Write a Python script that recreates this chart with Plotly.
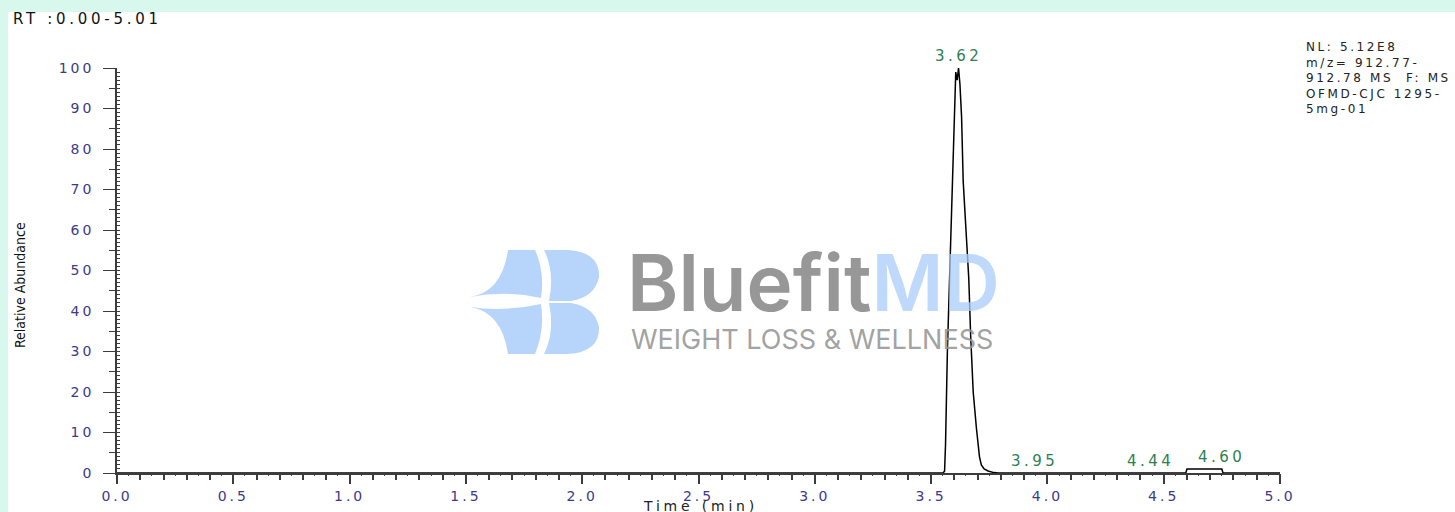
import plotly.graph_objects as go

# ---------------- data ----------------
time_min = [0.00, 3.552, 3.558, 3.562, 3.570, 3.583, 3.592, 3.606, 3.612, 3.618,
            3.624, 3.631, 3.638, 3.652, 3.662, 3.670, 3.681, 3.695, 3.708, 3.716,
            3.728, 3.745, 3.770, 3.790, 4.595, 4.600, 4.750, 4.755, 5.01]
rel_abundance = [0.0, 0.0, 0.5, 7.0, 30.0, 55.0, 78.0, 99.0, 97.0, 100.0,
                 96.0, 88.0, 72.0, 57.0, 48.0, 34.0, 20.0, 11.0, 4.0, 2.0,
                 1.0, 0.5, 0.1, 0.0, 0.0, 1.0, 1.0, 0.0, 0.0]

peak_labels = ["3.62", "3.95", "4.44", "4.60"]
peak_times = [3.62, 3.95, 4.44, 4.60]
peak_heights = [100.0, 0.0, 0.0, 1.0]
peak_xshift = [-1, -1, 1, 35]

x_tick_vals = [0.0, 0.5, 1.0, 1.5, 2.0, 2.5, 3.0, 3.5, 4.0, 4.5, 5.0]
y_tick_vals = [0, 10, 20, 30, 40, 50, 60, 70, 80, 90, 100]

info_lines = ["NL: 5.12E8", "m/z= 912.77-", "912.78 MS  F: MS", "OFMD-CJC 1295-", "5mg-01"]

# ---------------- geometry helpers (decoration only) ----------------
W, H = 1455, 512
L, R, T, B = 117, 175, 68, 39
PW, PH = W - L - R, H - T - B


def px(x):
    return (x - L) / PW


def py(y):
    return (H - B - y) / PH


def path(points):
    s = ""
    for cmd, pts in points:
        s += cmd + " " + " ".join(f"{px(a):.5f},{py(b):.5f}" for a, b in pts) + " "
    return s + "Z"


def spaced(txt, sp):
    return f"<span style='letter-spacing:{sp}px'>{txt}</span>"


MINT = "#d8f7ed"
AXIS = "#3c3c3c"
FONT = "DejaVu Sans, Verdana, sans-serif"
TICKFONT = dict(family=FONT, size=14, color="#3e3a86")
GREEN = "#2f7f52"
LOGO_BLUE = "rgba(170,205,250,0.85)"

fig = go.Figure()

fig.add_trace(go.Scatter(x=time_min, y=rel_abundance, mode="lines",
                         line=dict(color="black", width=1.5), hoverinfo="skip",
                         showlegend=False))
# helper invisible trace for overlay tick axes
fig.add_trace(go.Scatter(x=[0, 5], y=[0, 0], mode="lines", line=dict(width=0),
                         xaxis="x2", yaxis="y2", showlegend=False, hoverinfo="skip"))

shapes = []
# mint frame
shapes.append(dict(type="rect", xref="paper", yref="paper", x0=px(-5), x1=px(W + 5),
                   y0=py(12), y1=py(-5), fillcolor=MINT, line_width=0, layer="below"))
shapes.append(dict(type="rect", xref="paper", yref="paper", x0=px(-5), x1=px(8),
                   y0=py(H + 5), y1=py(-5), fillcolor=MINT, line_width=0, layer="below"))

# logo icon (watermark)
upper_wing = path([("M", [(470, 297)]), ("Q", [(502, 292), (508, 250)]), ("L", [(535, 250)]),
                   ("Q", [(545, 272), (541, 298)]), ("Q", [(505, 290), (470, 297)])])
upper_bump = path([("M", [(544, 250)]), ("L", [(568, 250)]), ("Q", [(600, 252), (599, 277)]),
                   ("Q", [(595, 297), (571, 301)]), ("L", [(549, 301)]),
                   ("Q", [(555, 272), (544, 250)])])
lower_wing = path([("M", [(470, 307)]), ("Q", [(502, 312), (508, 354)]), ("L", [(535, 354)]),
                   ("Q", [(545, 330), (541, 304)]), ("Q", [(505, 312), (470, 307)])])
lower_bump = path([("M", [(544, 354)]), ("L", [(568, 354)]), ("Q", [(600, 352), (599, 327)]),
                   ("Q", [(595, 307), (571, 303)]), ("L", [(549, 303)]),
                   ("Q", [(555, 332), (544, 354)])])
for p in (upper_wing, upper_bump, lower_wing, lower_bump):
    shapes.append(dict(type="path", xref="paper", yref="paper", path=p,
                       fillcolor=LOGO_BLUE, line_width=0, layer="above"))

annotations = []
# watermark text
annotations.append(dict(xref="paper", yref="paper", x=px(626), y=py(282), xanchor="left",
                        yanchor="middle", showarrow=False, borderpad=0,
                        text="Bluefit<span style='color:rgba(170,205,250,0.85)'>MD</span>",
                        font=dict(family="Inter, Roboto, sans-serif", size=78,
                                  color="rgba(140,140,140,0.9)", weight=600)))
annotations.append(dict(xref="paper", yref="paper", x=px(630), y=py(339), xanchor="left",
                        yanchor="middle", showarrow=False, borderpad=0,
                        text="WEIGHT LOSS & WELLNESS",
                        font=dict(family="Inter, Roboto, sans-serif", size=27,
                                  color="rgba(150,150,150,0.9)")))

# peak labels
for lab, t, h, xs in zip(peak_labels, peak_times, peak_heights, peak_xshift):
    annotations.append(dict(x=t, y=h, text=spaced(lab, 3.5), showarrow=False,
                            xanchor="center", yanchor="bottom", yshift=1, xshift=xs,
                            font=dict(family=FONT, size=15, color=GREEN)))

# top-left title
annotations.append(dict(xref="paper", yref="paper", x=px(11), y=py(19), xanchor="left",
                        yanchor="middle", showarrow=False, text=spaced("RT :0.00-5.01", 3.7),
                        font=dict(family=FONT, size=15, color="#111111")))
# info block
annotations.append(dict(xref="paper", yref="paper", x=px(1304), y=py(38), xanchor="left",
                        yanchor="top", showarrow=False, align="left",
                        text="<br>".join(spaced(s, 2.6) for s in info_lines),
                        font=dict(family=FONT, size=12, color="#222222")))
# axis titles
annotations.append(dict(xref="paper", yref="paper", x=px(20), y=py(285), xanchor="center",
                        yanchor="middle", showarrow=False, text="Relative Abundance",
                        textangle=-90,
                        font=dict(family="DejaVu Sans Condensed, Liberation Sans Narrow, Arial",
                                  size=14, color="#111111")))
annotations.append(dict(xref="paper", yref="paper", x=px(700), y=py(506), xanchor="center",
                        yanchor="middle", showarrow=False, text=spaced("Time (min)", 3.8),
                        font=dict(family=FONT, size=14, color="#222222")))

fig.update_layout(
    width=W, height=H,
    margin=dict(l=L, r=R, t=T, b=B, pad=0, autoexpand=False),
    paper_bgcolor="white", plot_bgcolor="white",
    shapes=shapes, annotations=annotations,
    xaxis=dict(range=[0, 5], tickvals=x_tick_vals, automargin=False,
               ticktext=[spaced(f"{v:.1f}", 3) for v in x_tick_vals],
               showgrid=False, zeroline=False, showline=True, linecolor=AXIS, linewidth=1.5,
               ticks="outside", ticklen=9, tickcolor=AXIS, tickwidth=1.5,
               tickfont=TICKFONT, ticklabelstandoff=0,
               minor=dict(dtick=0.1, ticks="outside", ticklen=5, tickcolor=AXIS,
                          showgrid=False)),
    yaxis=dict(range=[0, 100], tickvals=y_tick_vals, automargin=False,
               ticktext=[spaced(str(v), 3) for v in y_tick_vals],
               showgrid=False, zeroline=False,
               showline=True, linecolor=AXIS, linewidth=1.5, ticks="outside", ticklen=12,
               tickcolor=AXIS, tickwidth=1.2, tickfont=TICKFONT, ticklabelstandoff=6,
               minor=dict(dtick=5, ticks="outside", ticklen=6, tickcolor=AXIS,
                          showgrid=False)),
    xaxis2=dict(range=[0, 5], overlaying="x", anchor="y", dtick=0.05, ticks="outside",
                ticklen=2, tickcolor=AXIS, showticklabels=False, showgrid=False,
                zeroline=False, showline=False, automargin=False),
    yaxis2=dict(range=[0, 100], overlaying="y", anchor="x", dtick=1, ticks="inside",
                ticklen=3, tickcolor=AXIS, showticklabels=False, showgrid=False,
                zeroline=False, showline=False, automargin=False),
    showlegend=False,
)

fig.write_html("out.html", config={"displayModeBar": False},
               post_script="document.body.style.margin='0px';"
                           "document.body.style.background='#d8f7ed';")
